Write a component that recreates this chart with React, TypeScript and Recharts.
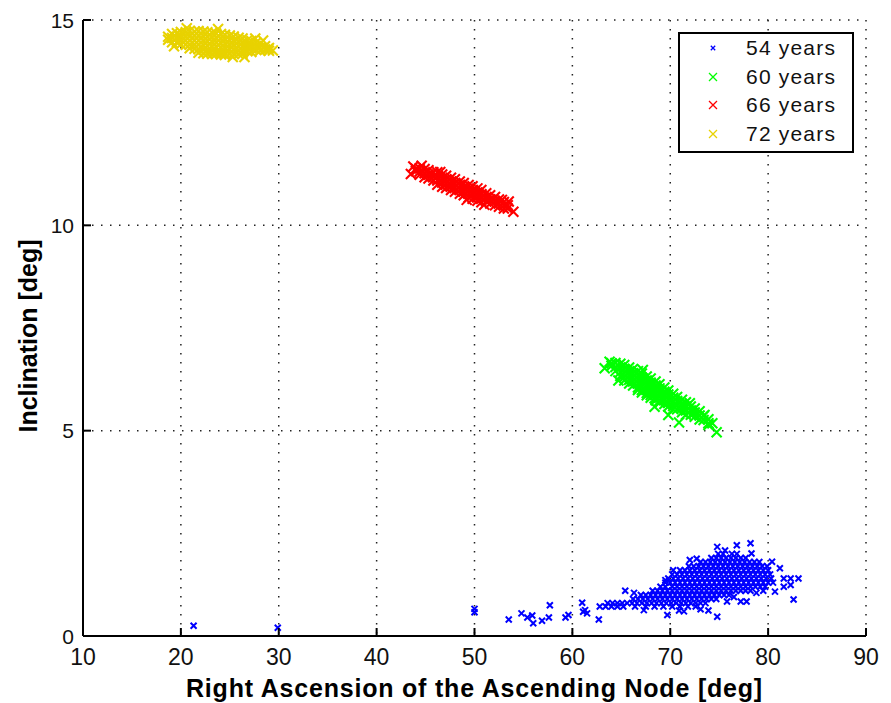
import React from "react";
import { CartesianGrid, Scatter, ScatterChart, XAxis, YAxis } from "recharts";

const xTicks = [10, 20, 30, 40, 50, 60, 70, 80, 90];
const yTicks = [0, 5, 10, 15];
const seriesNames = ["54 years", "60 years", "66 years", "72 years"];
const seriesColors = ["#0000ff", "#00ff00", "#ff0000", "#e8d200"];

// 54 years: dense core read row by row -> [inclination, RAAN values]
const rows54: [number, number[]][] = [
  [2.0, [74.9, 75.4, 76.3, 76.8]],
  [1.9, [74.2, 74.7, 75.2, 75.7, 76.2, 76.7, 77.2, 77.7]],
  [1.8, [73.1, 73.6, 74.1, 74.6, 75.1, 75.6, 76.1, 76.6, 77.1, 77.6, 78.1, 78.6, 79.1]],
  [1.7, [71.9, 72.4, 72.9, 73.4, 73.9, 74.4, 74.9, 75.4, 75.9, 76.4, 76.9, 77.4, 77.9, 78.4, 78.9, 79.4, 79.9]],
  [1.6, [71.0, 71.5, 72.0, 72.5, 73.0, 73.5, 74.0, 74.5, 75.0, 75.5, 76.0, 76.5, 77.0, 77.5, 78.0, 78.5, 79.0, 79.5, 80.0]],
  [1.5, [70.2, 70.7, 71.2, 71.7, 72.2, 72.7, 73.2, 73.7, 74.2, 74.7, 75.2, 75.7, 76.2, 76.7, 77.2, 77.7, 78.2, 78.7, 79.2, 79.7, 80.2]],
  [1.4, [69.8, 70.3, 70.8, 71.3, 71.8, 72.3, 72.8, 73.3, 73.8, 74.3, 74.8, 75.3, 75.8, 76.3, 76.8, 77.3, 77.8, 78.3, 78.8, 79.3, 79.8, 80.3]],
  [1.3, [69.5, 70.0, 70.5, 71.0, 71.5, 72.0, 72.5, 73.0, 73.5, 74.0, 74.5, 75.0, 75.5, 76.0, 76.5, 77.0, 77.5, 78.0, 78.5, 79.0, 79.5, 80.0, 80.5]],
  [1.2, [69.0, 69.5, 70.2, 70.7, 71.2, 71.7, 72.2, 72.7, 73.2, 73.7, 74.2, 74.7, 75.2, 75.7, 76.2, 76.7, 77.2, 77.7, 78.2, 78.7, 79.2, 79.7]],
  [1.1, [68.2, 68.7, 69.2, 69.7, 70.2, 70.7, 71.2, 71.7, 72.2, 72.7, 73.2, 73.7, 74.2, 74.7, 75.2, 75.7, 76.2, 76.7, 77.2, 77.7, 78.2]],
  [1.0, [67.0, 67.5, 68.0, 68.5, 69.0, 69.5, 70.0, 70.5, 71.0, 71.5, 72.0, 72.5, 73.0, 73.5, 74.0, 74.5, 75.0, 75.5, 76.0]],
  [0.9, [66.2, 66.7, 67.2, 67.7, 68.2, 68.7, 69.2, 69.7, 70.2, 70.7, 71.2, 71.7, 72.2, 72.7, 73.2, 73.7, 74.2, 74.7]],
  [0.8, [63.6, 64.1, 64.6, 65.1, 65.6, 66.1, 66.6, 67.1, 67.6, 68.1, 68.6, 69.1, 69.6, 70.1, 70.6, 71.1, 71.6, 72.1, 72.6, 73.1, 73.6]],
  [0.72, [62.8, 63.4, 64.0, 64.6, 65.2, 66.4, 67.5, 68.4, 69.3, 70.2, 71.0, 71.8, 72.6]],
];
const extra54: [number, number][] = [
  [21.3, 0.25], [29.9, 0.2], [50.0, 0.66], [50.0, 0.58], [53.5, 0.4], [54.8, 0.55], [55.4, 0.45],
  [55.9, 0.5], [56.0, 0.31], [56.9, 0.37], [57.6, 0.45], [57.7, 0.75], [59.3, 0.45], [59.6, 0.51],
  [61.0, 0.81], [61.1, 0.59], [61.5, 0.55], [61.3, 0.63], [62.7, 0.4], [65.4, 1.1], [66.3, 1.05],
  [67.3, 0.63], [69.7, 0.51], [70.9, 0.62], [71.4, 0.6], [73.1, 0.65], [73.9, 0.62], [74.8, 0.47],
  [74.8, 2.17], [75.6, 2.08], [76.8, 2.21], [78.2, 2.26], [78.3, 2.01], [80.4, 1.81], [81.2, 1.65],
  [81.6, 1.4], [82.3, 1.4], [83.1, 1.4], [81.6, 1.2], [82.3, 1.24], [82.6, 0.89], [80.7, 1.08],
  [75.8, 0.84], [77.2, 0.84], [77.8, 0.84], [76.5, 0.95], [78.8, 1.05], [79.5, 1.1], [72.0, 1.85],
  [72.7, 1.88], [70.3, 1.6], [69.5, 1.36],
];

// 60 years: columns -> [RAAN, inclinations]
const cols60: [number, number[]][] = [
  [64.0, [6.64, 6.58]],
  [64.4, [6.65, 6.55, 6.45]],
  [64.9, [6.63, 6.53, 6.43, 6.33]],
  [65.3, [6.6, 6.5, 6.4, 6.3, 6.22]],
  [65.8, [6.54, 6.44, 6.34, 6.24, 6.15]],
  [66.2, [6.5, 6.4, 6.3, 6.2, 6.1]],
  [66.7, [6.45, 6.35, 6.25, 6.15, 6.05, 5.99]],
  [67.1, [6.39, 6.29, 6.19, 6.09, 5.99, 5.93]],
  [67.6, [6.32, 6.22, 6.12, 6.02, 5.92, 5.86]],
  [68.0, [6.27, 6.17, 6.07, 5.97, 5.87, 5.8]],
  [68.5, [6.2, 6.1, 6.0, 5.9, 5.8, 5.74]],
  [68.9, [6.13, 6.03, 5.93, 5.83, 5.73, 5.68]],
  [69.4, [6.05, 5.95, 5.85, 5.75, 5.65]],
  [69.8, [5.98, 5.88, 5.78, 5.68, 5.59]],
  [70.3, [5.9, 5.8, 5.7, 5.6, 5.53]],
  [70.7, [5.82, 5.72, 5.62, 5.52]],
  [71.2, [5.75, 5.65, 5.55, 5.45]],
  [71.6, [5.69, 5.59, 5.49, 5.39]],
  [72.1, [5.59, 5.49, 5.39]],
  [72.5, [5.54, 5.44, 5.34]],
  [73.0, [5.47, 5.37, 5.27]],
  [73.4, [5.36, 5.26]],
  [73.9, [5.28, 5.18]],
  [74.3, [5.18]],
];
const extra60: [number, number][] = [
  [74.74, 4.96], [63.8, 6.68], [63.3, 6.52], [72.0, 5.67], [73.5, 5.38], [70.9, 5.2],
  [69.8, 5.38], [73.9, 5.14], [64.7, 6.22], [68.4, 5.58], [67.2, 6.48],
];

// 66 years
const cols66: [number, number[]][] = [
  [44.0, [11.38, 11.32]],
  [44.4, [11.39, 11.31, 11.23]],
  [44.9, [11.37, 11.27, 11.17]],
  [45.3, [11.34, 11.24, 11.14]],
  [45.8, [11.29, 11.19, 11.09]],
  [46.2, [11.29, 11.19, 11.09, 10.99]],
  [46.7, [11.24, 11.14, 11.04, 10.94]],
  [47.1, [11.21, 11.11, 11.01, 10.91]],
  [47.6, [11.16, 11.06, 10.96, 10.86]],
  [48.0, [11.12, 11.02, 10.92, 10.82]],
  [48.5, [11.07, 10.97, 10.87, 10.77]],
  [48.9, [11.03, 10.93, 10.83, 10.73]],
  [49.4, [10.98, 10.88, 10.78, 10.68]],
  [49.8, [10.95, 10.85, 10.75, 10.65]],
  [50.3, [10.9, 10.8, 10.7, 10.6]],
  [50.7, [10.86, 10.76, 10.66, 10.56]],
  [51.2, [10.78, 10.68, 10.58]],
  [51.6, [10.73, 10.63, 10.53]],
  [52.1, [10.69, 10.59, 10.49]],
  [52.5, [10.63, 10.54, 10.45]],
  [53.0, [10.57, 10.49, 10.41]],
  [53.4, [10.49, 10.41]],
];
const extra66: [number, number][] = [
  [53.97, 10.33], [43.75, 11.43], [44.6, 11.45], [46.5, 11.3], [52.8, 10.62], [51.0, 10.5],
  [53.5, 10.58], [49.2, 10.62], [43.5, 11.25],
];

// 72 years
const cols72: [number, number[]][] = [
  [18.7, [14.59, 14.52]],
  [19.1, [14.66, 14.56, 14.46]],
  [19.6, [14.68, 14.57, 14.46]],
  [20.0, [14.71, 14.61, 14.51, 14.41]],
  [20.5, [14.7, 14.6, 14.5, 14.4]],
  [20.9, [14.73, 14.62, 14.51, 14.4, 14.31]],
  [21.4, [14.72, 14.61, 14.5, 14.39, 14.3]],
  [21.8, [14.73, 14.62, 14.51, 14.4, 14.29, 14.2]],
  [22.3, [14.72, 14.61, 14.5, 14.39, 14.28, 14.19]],
  [22.7, [14.7, 14.59, 14.48, 14.37, 14.26, 14.18]],
  [23.2, [14.69, 14.58, 14.47, 14.36, 14.25, 14.17]],
  [23.6, [14.67, 14.56, 14.45, 14.34, 14.23, 14.17]],
  [24.1, [14.66, 14.55, 14.44, 14.33, 14.22, 14.16]],
  [24.5, [14.64, 14.53, 14.42, 14.31, 14.2, 14.15]],
  [25.0, [14.62, 14.51, 14.4, 14.29, 14.18]],
  [25.4, [14.6, 14.49, 14.38, 14.27, 14.17]],
  [25.9, [14.57, 14.47, 14.37, 14.26, 14.17]],
  [26.3, [14.55, 14.45, 14.35, 14.25, 14.18]],
  [26.8, [14.51, 14.42, 14.33, 14.24]],
  [27.2, [14.49, 14.4, 14.31, 14.22]],
  [27.7, [14.45, 14.36, 14.27]],
  [28.1, [14.42, 14.33, 14.25]],
  [28.6, [14.36, 14.28]],
  [29.0, [14.32, 14.25]],
  [29.4, [14.26]],
];
const extra72: [number, number][] = [
  [20.6, 14.8], [23.8, 14.78], [27.6, 14.55], [28.4, 14.5], [26.5, 14.1], [25.3, 14.1],
  [19.3, 14.36], [28.9, 14.3],
];

type P = { x: number; y: number };
const byRow = (rows: [number, number[]][]): P[] => rows.flatMap(([y, xs]) => xs.map((x) => ({ x, y })));
const byCol = (cols: [number, number[]][]): P[] => cols.flatMap(([x, ys]) => ys.map((y) => ({ x, y })));
const pairs = (list: [number, number][]): P[] => list.map(([x, y]) => ({ x, y }));

const pts54 = [...byRow(rows54), ...pairs(extra54)];
const pts60 = [...byCol(cols60), ...pairs(extra60)];
const pts66 = [...byCol(cols66), ...pairs(extra66)];
const pts72 = [...byCol(cols72), ...pairs(extra72)];

const font = '"Liberation Sans", Arial, sans-serif';

function Cross({ cx, cy, r, color, w }: any) {
  if (cx == null || cy == null) return null;
  return (
    <path
      d={`M${cx - r},${cy - r}L${cx + r},${cy + r}M${cx - r},${cy + r}L${cx + r},${cy - r}`}
      stroke={color}
      strokeWidth={w}
      fill="none"
    />
  );
}

const markR = [3, 5, 5, 5];
const markW = [2, 2.1, 2.1, 2.1];
const shapeFor = (i: number) => (p: any) => <Cross cx={p.cx} cy={p.cy} r={markR[i]} w={markW[i]} color={seriesColors[i]} />;

function BottomTick({ x, y, payload }: any) {
  return (
    <g>
      <line x1={x} y1={y} x2={x} y2={y - 8} stroke="#000" strokeWidth={2} />
      <text x={x} y={y + 29} textAnchor="middle" fontSize={23} fontFamily={font} fill="#111">
        {payload.value}
      </text>
    </g>
  );
}
function TopTick({ x, y }: any) {
  return <line x1={x} y1={y} x2={x} y2={y + 8} stroke="#000" strokeWidth={2} />;
}
function LeftTick({ x, y, payload }: any) {
  return (
    <g>
      <line x1={x} y1={y} x2={x + 8} y2={y} stroke="#000" strokeWidth={2} />
      <text x={x - 9} y={y + 7.5} textAnchor="end" fontSize={21} fontFamily={font} fill="#111">
        {payload.value}
      </text>
    </g>
  );
}
function RightTick({ x, y }: any) {
  return <line x1={x} y1={y} x2={x - 8} y2={y} stroke="#000" strokeWidth={2} />;
}

const axisLine = { stroke: "#000", strokeWidth: 2 };

export default function App() {
  const all = [pts54, pts60, pts66, pts72];
  return (
    <div style={{ position: "fixed", left: 0, top: 0, width: 891, height: 703, background: "#fff" }}>
      <ScatterChart width={891} height={703} margin={{ top: 20, right: 25, bottom: 0, left: 0 }}>
        <CartesianGrid stroke="#222" strokeWidth={1.5} strokeDasharray="1.5 7.5" />
        <XAxis
          type="number"
          dataKey="x"
          domain={[10, 90]}
          ticks={xTicks}
          interval={0}
          allowDataOverflow
          height={67}
          tickSize={0}
          tickMargin={0}
          axisLine={axisLine}
          tickLine={false}
          tick={<BottomTick />}
          label={{
            content: (p: any) => {
              const vb = p.viewBox || { x: 83, y: 636, width: 783 };
              return (
                <text
                  x={vb.x + vb.width / 2}
                  y={vb.y + 61}
                  textAnchor="middle"
                  fontSize={25}
                  fontWeight="bold"
                  letterSpacing={0.8}
                  fontFamily={font}
                  fill="#000"
                >
                  Right Ascension of the Ascending Node [deg]
                </text>
              );
            },
          }}
        />
        <XAxis
          xAxisId="top"
          orientation="top"
          type="number"
          domain={[10, 90]}
          ticks={xTicks}
          interval={0}
          allowDataOverflow
          height={0}
          tickSize={0}
          tickMargin={0}
          axisLine={axisLine}
          tickLine={false}
          tick={<TopTick />}
        />
        <YAxis
          type="number"
          dataKey="y"
          domain={[0, 15]}
          ticks={yTicks}
          interval={0}
          allowDataOverflow
          width={83}
          tickSize={0}
          tickMargin={0}
          axisLine={axisLine}
          tickLine={false}
          tick={<LeftTick />}
          label={{
            content: (p: any) => {
              const vb = p.viewBox || { x: 0, y: 20, height: 616 };
              const cy = vb.y + vb.height / 2 + 8;
              return (
                <text
                  x={37}
                  y={cy}
                  transform={`rotate(-90 37 ${cy})`}
                  textAnchor="middle"
                  fontSize={25}
                  fontWeight="bold"
                  fontFamily={font}
                  fill="#000"
                >
                  Inclination [deg]
                </text>
              );
            },
          }}
        />
        <YAxis
          yAxisId="right"
          orientation="right"
          type="number"
          domain={[0, 15]}
          ticks={yTicks}
          interval={0}
          allowDataOverflow
          width={0}
          tickSize={0}
          tickMargin={0}
          axisLine={axisLine}
          tickLine={false}
          tick={<RightTick />}
        />
        {all.map((pts, i) => (
          <Scatter
            key={seriesNames[i]}
            name={seriesNames[i]}
            data={pts}
            isAnimationActive={false}
            shape={shapeFor(i)}
          />
        ))}
      </ScatterChart>
      <div
        style={{
          position: "absolute",
          left: 678,
          top: 32,
          width: 176,
          height: 121,
          boxSizing: "border-box",
          border: "2px solid #000",
          background: "#fff",
          fontFamily: font,
        }}
      >
        {seriesNames.map((name, i) => (
          <div
            key={name}
            style={{ position: "absolute", left: 0, top: i * 28.5, height: 28.5, display: "flex", alignItems: "center" }}
          >
            <svg width={66} height={28} style={{ display: "block" }}>
              <Cross cx={33} cy={14} r={i === 0 ? 2.2 : 4} w={1.3} color={seriesColors[i]} />
            </svg>
            <span style={{ fontSize: 21, letterSpacing: 1.2, color: "#111" }}>{name}</span>
          </div>
        ))}
      </div>
    </div>
  );
}
